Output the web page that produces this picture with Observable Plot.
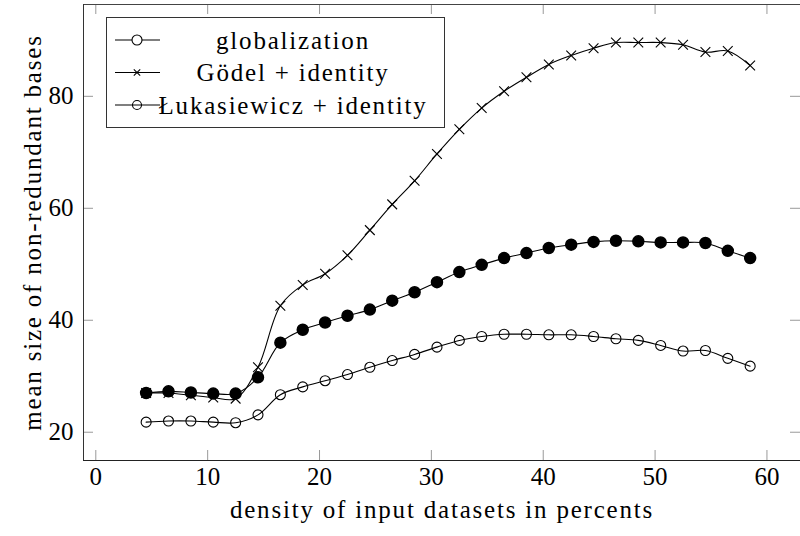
<!DOCTYPE html>
<html><head><meta charset="utf-8">
<script src="https://cdn.jsdelivr.net/npm/d3@7"></script>
<script src="https://cdn.jsdelivr.net/npm/@observablehq/plot@0.6"></script>
<style>body{margin:0;background:#fff;overflow:hidden}</style>
</head><body><div id="chart"></div>
<script>
const density = [4.5,6.5,8.5,10.5,12.5,14.5,16.5,18.5,20.5,22.5,24.5,26.5,28.5,30.5,32.5,34.5,36.5,38.5,40.5,42.5,44.5,46.5,48.5,50.5,52.5,54.5,56.5,58.5];
const globalization = [27.0,27.3,27.1,26.9,26.9,29.8,36.0,38.3,39.6,40.8,41.9,43.5,45.0,46.8,48.6,49.9,51.1,52.0,52.9,53.5,54.0,54.2,54.1,53.9,53.9,53.8,52.4,51.1];
const godel = [27.0,27.0,26.6,26.2,26.0,31.6,42.6,46.3,48.3,51.6,56.1,60.7,64.9,69.7,74.1,77.9,80.9,83.4,85.7,87.3,88.6,89.6,89.6,89.6,89.2,87.9,88.1,85.5];
const lukasiewicz = [21.8,22.0,22.0,21.8,21.7,23.1,26.7,28.1,29.2,30.3,31.6,32.8,33.9,35.2,36.4,37.1,37.5,37.5,37.4,37.4,37.1,36.7,36.4,35.5,34.5,34.6,33.2,31.8];
const xTicks = [0,10,20,30,40,50,60];
const yTicks = [20,40,60,80];
const seriesNames = ["globalization","Gödel + identity","Łukasiewicz + identity"];
const xLabel = "density of input datasets in percents";
const yLabel = "mean size of non-redundant bases";

const xDomain = [-1.1, 63.0];
const yDomain = [14.95, 96.4];
const rows = (vals, s) => density.map((x, i) => ({x, y: vals[i], s}));
const A = rows(globalization, seriesNames[0]);
const B = rows(godel, seriesNames[1]);
const C = rows(lukasiewicz, seriesNames[2]);

const W = 800, H = 536, mL = 83, mT = 4, mB = 76, mR = 0;
const tickLenX = 10 * (xDomain[1] - xDomain[0]) / (W - mL - mR);
const tickLenY = 10 * (yDomain[1] - yDomain[0]) / (H - mT - mB);
const font = "'Liberation Serif', 'Times New Roman', serif";
const lineOpts = {x: "x", y: "y", curve: "catmull-rom", stroke: "black", strokeWidth: 1.1};

const chart = Plot.plot({
  width: W, height: H, marginLeft: mL, marginTop: mT, marginBottom: mB, marginRight: mR,
  style: {fontFamily: font, fontSize: "25px", background: "white", color: "black"},
  x: {domain: xDomain},
  y: {domain: yDomain},
  marks: [
    Plot.ruleX(xTicks, {x: d => d, y1: () => yDomain[0], y2: () => yDomain[0] + tickLenY, stroke: "#999"}),
    Plot.ruleX(xTicks, {x: d => d, y1: () => yDomain[1], y2: () => yDomain[1] - tickLenY, stroke: "#999"}),
    Plot.ruleY(yTicks, {y: d => d, x1: () => xDomain[0], x2: () => xDomain[0] + tickLenX, stroke: "#999"}),
    Plot.ruleY(yTicks, {y: d => d, x1: () => xDomain[1], x2: () => xDomain[1] - tickLenX, stroke: "#999"}),
    Plot.ruleY([yDomain[0]], {stroke: "#222"}),
    Plot.ruleY([yDomain[1]], {stroke: "#444"}),
    Plot.ruleX([xDomain[0]], {stroke: "#333"}),
    Plot.axisX({ticks: xTicks, tickSize: 0, tickPadding: 7, fontSize: 25, label: xLabel, labelAnchor: "center", labelArrow: "none", labelOffset: 57}),
    Plot.axisY({ticks: yTicks, tickSize: 0, tickPadding: 10, fontSize: 25, label: yLabel, labelAnchor: "center", labelArrow: "none", labelOffset: 60}),
    Plot.line(C, lineOpts),
    Plot.line(B, lineOpts),
    Plot.line(A, lineOpts),
    Plot.dot(C, {x: "x", y: "y", r: 5, stroke: "black", fill: "none", strokeWidth: 1.1}),
    Plot.dot(B, {x: "x", y: "y", symbol: "times", r: 4.5, stroke: "black", strokeWidth: 1.1}),
    Plot.dot(A, {x: "x", y: "y", r: 5.5, fill: "black", stroke: "black"})
  ]
});

const svg = d3.select(chart);
svg.selectAll("text").filter(function () { return this.textContent === xLabel || this.textContent === yLabel; })
  .style("letter-spacing", "1.8px");

// legend
const lg = svg.append("g").style("font-family", font).style("font-size", "25px");
lg.append("rect").attr("x", 106.5).attr("y", 17.5).attr("width", 338).attr("height", 110)
  .attr("fill", "white").attr("stroke", "#333");
const rowsY = [40, 72.5, 105];
seriesNames.forEach((name, i) => {
  const y = rowsY[i];
  lg.append("line").attr("x1", 115).attr("x2", 160).attr("y1", y).attr("y2", y).attr("stroke", "black").attr("stroke-width", 1.1);
  if (i === 0) {
    lg.append("circle").attr("cx", 137).attr("cy", y).attr("r", 5).attr("fill", "white").attr("stroke", "black").attr("stroke-width", 1.1);
  } else if (i === 1) {
    const s = 3.2;
    lg.append("path").attr("d", `M${137-s},${y-s}L${137+s},${y+s}M${137-s},${y+s}L${137+s},${y-s}`).attr("stroke", "black").attr("stroke-width", 1.1);
  } else {
    lg.append("circle").attr("cx", 137).attr("cy", y).attr("r", 4.5).attr("fill", "none").attr("stroke", "black").attr("stroke-width", 1.1);
  }
  lg.append("text").attr("x", 293).attr("y", y).attr("dy", "0.35em").attr("text-anchor", "middle")
    .style("letter-spacing", "1.8px").attr("fill", "black").text(name);
});

document.getElementById("chart").append(chart);
</script>
</body></html>
